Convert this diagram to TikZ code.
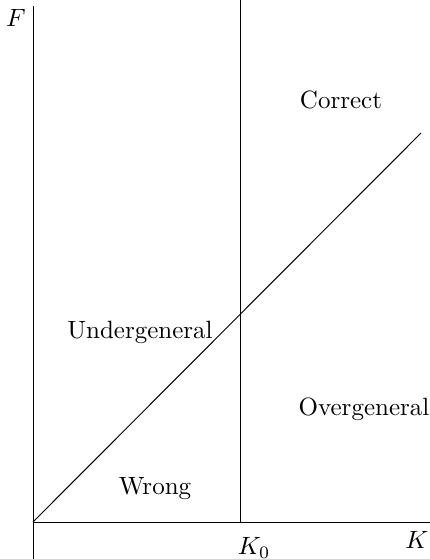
\documentclass[tikz,border=0pt]{standalone}
\begin{document}
\begin{tikzpicture}[x=0.4pt,y=-0.4pt,lbl/.style={inner sep=0pt}]
\useasboundingbox (0,0) rectangle (430,559);
\coordinate (O) at (33,522);
\coordinate (ytop) at (33,6);
\coordinate (ybot) at (33,559);
\coordinate (xend) at (430,522);
\coordinate (ktop) at (240,0);
\coordinate (kbot) at (240,522);
\coordinate (dend) at (421,133);
\draw (ybot) -- (ytop);
\draw (O) -- (xend);
\draw (ktop) -- (kbot);
\draw (O) -- (dend);
\node[lbl] (F) at (16,18) {$F$};
\node[lbl] (K) at (417,540) {$K$};
\node[lbl] (K0) at (254,548) {$K_0$};
\node[lbl] (c) at (341,100) {Correct};
\node[lbl] (u) at (140,332) {Undergeneral};
\node[lbl] (o) at (364,409) {Overgeneral};
\node[lbl] (w) at (155,489) {Wrong};
\end{tikzpicture}
\end{document}
